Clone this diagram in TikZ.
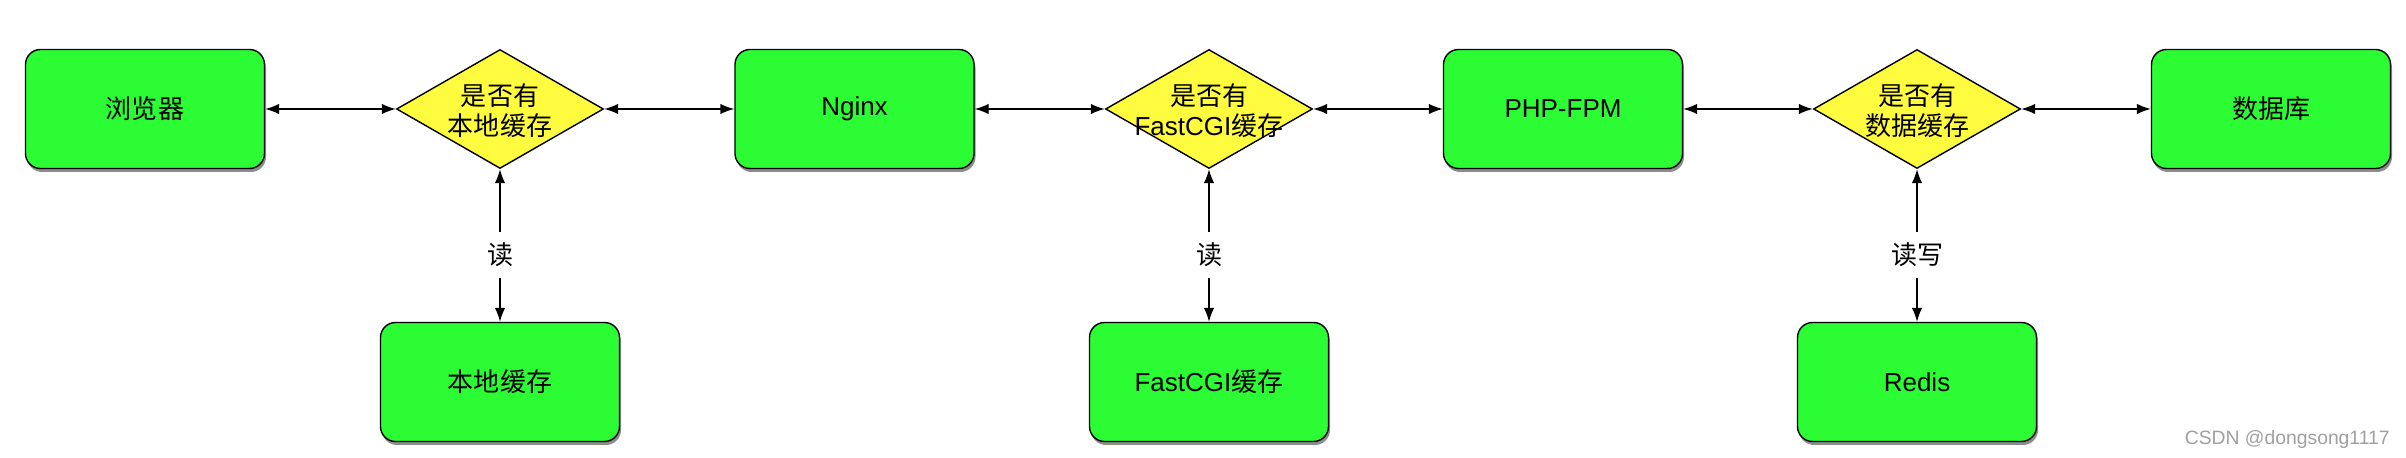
\documentclass[tikz,border=0pt]{standalone}
\usepackage{fontspec}
\setmainfont{Liberation Sans}
\newfontfamily\zh{Noto Sans CJK SC}
\usepackage{xcolor}
\usepackage{tikz}
\usetikzlibrary{arrows.meta, positioning, shapes.geometric, shadows}

\definecolor{boxgreen}{RGB}{44,252,52}
\definecolor{askyellow}{RGB}{255,252,64}

\begin{document}
\begin{tikzpicture}[
  srv/.style={draw, line width=0.8pt, rounded corners=0.3cm, minimum width=4.78cm, minimum height=2.38cm, fill=boxgreen, font=\fontsize{14.8}{17}\selectfont, align=center, drop shadow={shadow xshift=0.03cm, shadow yshift=-0.07cm, opacity=0.45, fill=black}},
  ask/.style={draw, line width=0.8pt, diamond, inner sep=0pt, minimum width=4.14cm, minimum height=2.38cm, fill=askyellow},
  asktxt/.style={font=\fontsize{14.8}{17.4}\selectfont, align=center, inner sep=0pt},
  arr/.style={<->, >={Latex[length=2.8mm,width=2.1mm]}, line width=0.8pt},
  rw/.style={fill=white, inner sep=0.22cm, font=\fontsize{14.8}{17}\selectfont}
]
  \useasboundingbox (0,0) rectangle (48.12,9.16);

  % 1. Main chain
  \node[srv] (browser) at (2.90, 6.98) {\zh 浏览器};
  \node[ask] (q1) at (10.00, 6.98) {};
  \node[asktxt] (q1txt) at (10.00, 6.95) {\zh 是否有\\\zh 本地缓存};
  \node[srv] (nginx) at (17.09, 6.98) {Nginx};
  \node[ask] (q2) at (24.18, 6.98) {};
  \node[asktxt] (q2txt) at (24.18, 6.95) {\zh 是否有\\FastCGI{\zh 缓存}};
  \node[srv] (fpm) at (31.26, 6.98) {PHP-FPM};
  \node[ask] (q3) at (38.34, 6.98) {};
  \node[asktxt] (q3txt) at (38.34, 6.95) {\zh 是否有\\\zh 数据缓存};
  \node[srv] (db) at (45.42, 6.98) {\zh 数据库};

  % Arrows along the chain
  \draw[arr] (browser.east) -- (q1.west);
  \draw[arr] (q1.east) -- (nginx.west);
  \draw[arr] (nginx.east) -- (q2.west);
  \draw[arr] (q2.east) -- (fpm.west);
  \draw[arr] (fpm.east) -- (q3.west);
  \draw[arr] (q3.east) -- (db.west);

  % 2. Cache stores
  \node[srv] (localc) at (10.00, 1.52) {\zh 本地缓存};
  \node[srv] (fcgic) at (24.18, 1.52) {FastCGI{\zh 缓存}};
  \node[srv] (redis) at (38.34, 1.52) {Redis};

  % Arrows to cache stores
  \draw[arr] (localc.north) -- (q1.south) node[rw, pos=0.44] {\zh 读};
  \draw[arr] (fcgic.north) -- (q2.south) node[rw, pos=0.44] {\zh 读};
  \draw[arr] (redis.north) -- (q3.south) node[rw, pos=0.44] {\zh 读写};

  % Watermark
  \node[anchor=base east, inner sep=0pt, text=gray!75, font=\fontsize{11}{12}\selectfont] (mark) at (47.80, 0.26) {CSDN @dongsong1117};

\end{tikzpicture}
\end{document}
